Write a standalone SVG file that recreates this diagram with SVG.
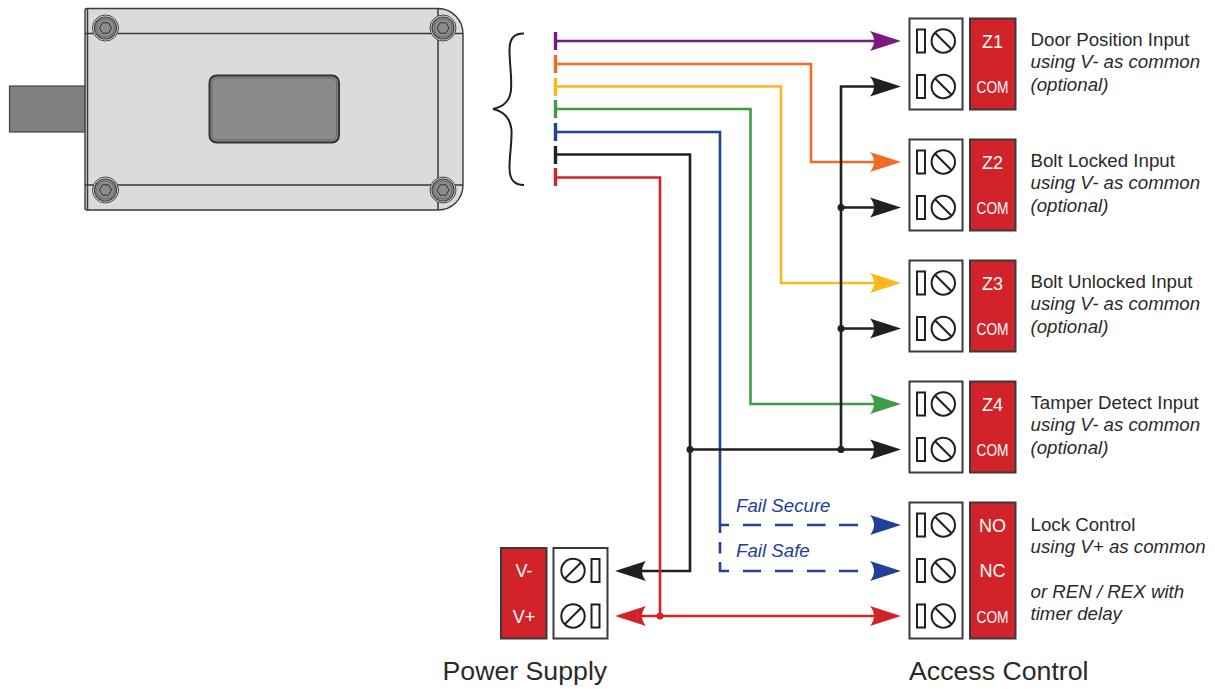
<svg xmlns="http://www.w3.org/2000/svg" xmlns:xlink="http://www.w3.org/1999/xlink" width="1215" height="689" viewBox="0 0 1215 689">
<style>
text{font-family:"Liberation Sans",Arial,sans-serif;fill:#2b2a29}
.l{font-size:18.7px}
.i{font-size:18.7px;font-style:italic}
.t{font-size:26.7px}
.w{fill:#fff;text-anchor:middle;font-size:18px}
.box{fill:#fff;stroke:#3a3a3a;stroke-width:2}
.red{fill:#d2232a;stroke:#3a3a3a;stroke-width:2}
.ct{fill:#fff;stroke:#231f20;stroke-width:2}
.sc{fill:#fff;stroke:#231f20;stroke-width:2}
.wire{fill:none;stroke-width:2.6;stroke-linejoin:miter}
.tick{stroke-width:3.4;fill:none}
.d{stroke:#3a3a3a;fill:none;stroke-width:1.5}
</style>
<defs>
<path id="ah" d="M0,0L-31,-10Q-23,0 -31,10Z"/>
<g id="term"><rect class="ct" x="917" y="-11.5" width="8" height="23"/><circle class="sc" cx="943.3" cy="0" r="11.7"/><path class="ct" d="M935,-8.3L951.6,8.3"/></g>
<g id="termL"><rect class="ct" x="591.5" y="-11.5" width="8" height="23"/><circle class="sc" cx="573" cy="0" r="11.7"/><path class="ct" d="M564.7,8.3L581.3,-8.3"/></g>
<g id="bolt"><circle r="13" fill="#dcdbd9" stroke="#444" stroke-width="1"/><circle r="11" fill="#8c8c8a" stroke="#444" stroke-width="1.2"/><circle r="9" fill="#8c8c8a" stroke="#555" stroke-width=".6"/><path d="M-6,0L-3,-5.2H3L6,0L3,5.2H-3Z" fill="#8c8c8a" stroke="#333" stroke-width="1"/></g>
</defs>
<g id="device">
<rect x="9.500" y="86" width="76" height="46" fill="#808080" stroke="#444" stroke-width="1.2"/>
<path d="M87,8.500H438C452,8.500 463,20 463,34V185C463,199 452,210 438,210H87Q85,210 85,208V10.500Q85,8.500 87,8.500Z" fill="#dcdbd9" stroke="#3a3a3a" stroke-width="1.4"/>
<path class="d" d="M87.500,9V210M85,33.500H463M85,185H463M438,8.500V210"/>
<rect x="209.500" y="75.500" width="129.500" height="67" rx="7" fill="#8a8a88" stroke="#333" stroke-width="2"/>
<rect x="212" y="78" width="124.500" height="62" rx="5" fill="none" stroke="#666" stroke-width="1"/>
<use xlink:href="#bolt" href="#bolt" x="105.500" y="28"/>
<use xlink:href="#bolt" href="#bolt" x="443" y="28"/>
<use xlink:href="#bolt" href="#bolt" x="105.500" y="190"/>
<use xlink:href="#bolt" href="#bolt" x="443" y="190"/>
</g>
<path id="brace" d="M524,33.500C514,33.500 509,38 509.500,52C510,68 512,78 511,90C510,101 503,107 493,109C503,111 510,117 511.500,130C512,142 509.500,155 509.500,168C509.500,180 514,185 524,185" fill="none" stroke="#231f20" stroke-width="2"/>
<g id="connectors">
<g stroke="#7b1a7e" fill="#7b1a7e"><path class="tick" d="M555.500,32V50"/><path class="wire" d="M555,41H880"/><use href="#ah" x="901" y="41" stroke="none"/></g>
<g stroke="#f26a25" fill="#f26a25"><path class="tick" d="M555.500,55V73"/><path class="wire" d="M555,64H811V162H880"/><use href="#ah" x="901" y="162" stroke="none"/></g>
<g stroke="#fdb71c" fill="#fdb71c"><path class="tick" d="M555.500,78V96"/><path class="wire" d="M555,86.500H781V283H880"/><use href="#ah" x="901" y="283" stroke="none"/></g>
<g stroke="#3f9b46" fill="#3f9b46"><path class="tick" d="M555.500,100V118"/><path class="wire" d="M555,109H750.500V404H880"/><use href="#ah" x="901" y="404" stroke="none"/></g>
<g stroke="#20409a" fill="#20409a"><path class="tick" d="M555.500,123V141"/><path class="wire" d="M555,132H720V533M720,525H729M743,525H761M775,525H793M807,525H825.500M839,525H858M720,542V553.500M720,562V571H729M743,571H761M775,571H793M807,571H825.500M839,571H858"/><use href="#ah" x="901" y="525" stroke="none"/><use href="#ah" x="901" y="571" stroke="none"/></g>
<g stroke="#231f20" fill="#231f20"><path class="tick" d="M555.500,146V164"/><path class="wire" d="M555,154.500H690V571H635"/><use href="#ah" transform="translate(615,571) rotate(180)" stroke="none"/>
<path class="wire" d="M690,449.500H880M841,449.500V86.500H880M841,207.500H880M841,328.500H880"/>
<use href="#ah" x="901" y="86.500" stroke="none"/><use href="#ah" x="901" y="207.500" stroke="none"/><use href="#ah" x="901" y="328.500" stroke="none"/><use href="#ah" x="901" y="449.500" stroke="none"/>
<g stroke="none"><circle cx="841" cy="207.500" r="3.500"/><circle cx="841" cy="328.500" r="3.500"/><circle cx="841" cy="449.500" r="3.500"/><circle cx="690" cy="449.500" r="3.500"/></g></g>
<g stroke="#d2232a" fill="#d2232a"><path class="tick" d="M555.500,168V186"/><path class="wire" d="M555,177.500H660V616M635,616H880"/><use href="#ah" x="901" y="616" stroke="none"/><use href="#ah" transform="translate(615,616) rotate(180)" stroke="none"/><circle cx="660" cy="616" r="3.500" stroke="none"/></g>
</g>
<g id="z1"><rect class="box" x="909.500" y="18.500" width="53" height="91"/><rect class="red" x="970" y="18.500" width="45.500" height="91"/><use href="#term" y="41"/><use href="#term" y="86.500"/><text class="w" x="992.500" y="48">Z1</text><text class="w" x="992.500" y="93" textLength="32" lengthAdjust="spacingAndGlyphs" style="font-size:17px">COM</text><text class="l" x="1030.500" y="45.500">Door Position Input</text><text class="i" x="1030.500" y="68">using V- as common</text><text class="i" x="1030.500" y="90.500">(optional)</text></g>
<g id="z2"><rect class="box" x="909.500" y="139.500" width="53" height="91"/><rect class="red" x="970" y="139.500" width="45.500" height="91"/><use href="#term" y="162"/><use href="#term" y="207.500"/><text class="w" x="992.500" y="169">Z2</text><text class="w" x="992.500" y="214" textLength="32" lengthAdjust="spacingAndGlyphs" style="font-size:17px">COM</text><text class="l" x="1030.500" y="166.500">Bolt Locked Input</text><text class="i" x="1030.500" y="189">using V- as common</text><text class="i" x="1030.500" y="211.500">(optional)</text></g>
<g id="z3"><rect class="box" x="909.500" y="260.500" width="53" height="91"/><rect class="red" x="970" y="260.500" width="45.500" height="91"/><use href="#term" y="283"/><use href="#term" y="328.500"/><text class="w" x="992.500" y="290">Z3</text><text class="w" x="992.500" y="335" textLength="32" lengthAdjust="spacingAndGlyphs" style="font-size:17px">COM</text><text class="l" x="1030.500" y="287.500">Bolt Unlocked Input</text><text class="i" x="1030.500" y="310">using V- as common</text><text class="i" x="1030.500" y="332.500">(optional)</text></g>
<g id="z4"><rect class="box" x="909.500" y="381.500" width="53" height="91"/><rect class="red" x="970" y="381.500" width="45.500" height="91"/><use href="#term" y="404"/><use href="#term" y="449.500"/><text class="w" x="992.500" y="411">Z4</text><text class="w" x="992.500" y="456" textLength="32" lengthAdjust="spacingAndGlyphs" style="font-size:17px">COM</text><text class="l" x="1030.500" y="408.500">Tamper Detect Input</text><text class="i" x="1030.500" y="431">using V- as common</text><text class="i" x="1030.500" y="453.500">(optional)</text></g>
<g id="lock"><rect class="box" x="909.500" y="502.500" width="53" height="136"/><rect class="red" x="970" y="502.500" width="45.500" height="136"/><use href="#term" y="525"/><use href="#term" y="570.500"/><use href="#term" y="616"/><text class="w" x="992.500" y="532">NO</text><text class="w" x="992.500" y="577">NC</text><text class="w" x="992.500" y="623" textLength="32" lengthAdjust="spacingAndGlyphs" style="font-size:17px">COM</text><text class="l" x="1030.500" y="530.500">Lock Control</text><text class="i" x="1030.500" y="553">using V+ as common</text><text class="i" x="1030.500" y="597.500">or REN / REX with</text><text class="i" x="1030.500" y="620">timer delay</text></g>
<g id="psu"><rect class="red" x="501" y="548" width="45.500" height="90.500"/><rect class="box" x="553.500" y="548" width="54" height="90.500"/><use href="#termL" y="570.500"/><use href="#termL" y="616"/><text class="w" x="524" y="577">V-</text><text class="w" x="524" y="623">V+</text></g>
<text x="736" y="511.500" style="font-size:18.7px;font-style:italic;fill:#20409a">Fail Secure</text>
<text x="736" y="557" style="font-size:18.7px;font-style:italic;fill:#20409a">Fail Safe</text>
<text class="t" x="442.500" y="679.500">Power Supply</text>
<text class="t" x="909" y="679.500">Access Control</text>
</svg>
